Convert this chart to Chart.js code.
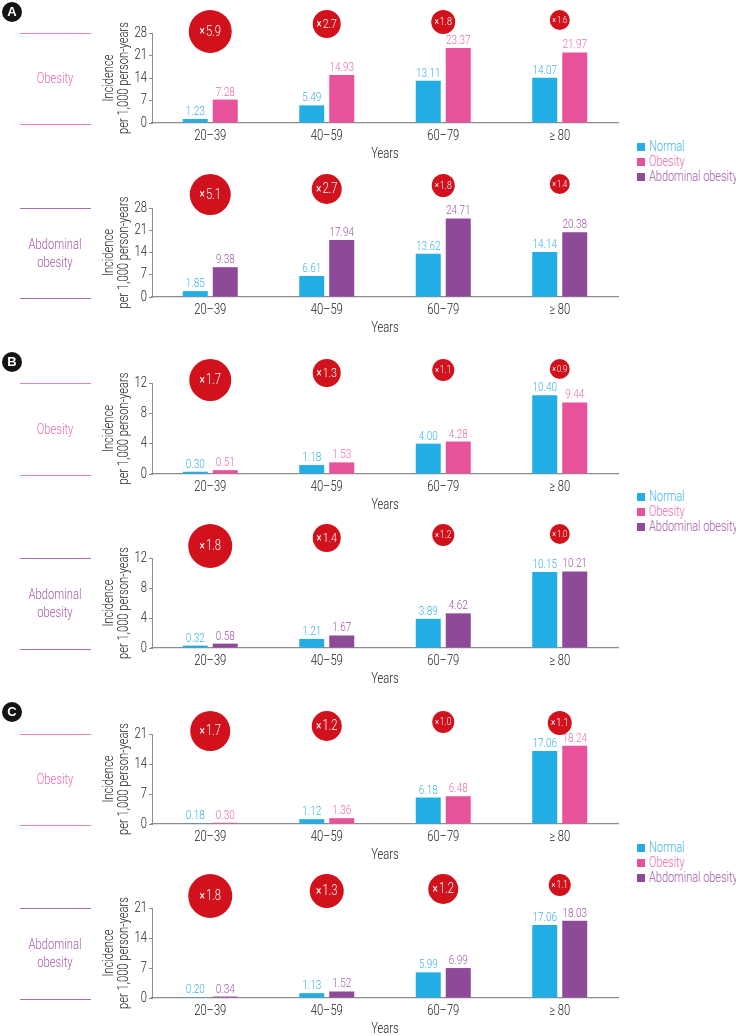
<!DOCTYPE html>
<html><head><meta charset="utf-8">
<script src="https://cdn.jsdelivr.net/npm/chart.js@4.4.1/dist/chart.umd.min.js"></script>
<style>
html,body{margin:0;padding:0;background:#fff;}
body{width:736px;height:1036px;position:relative;overflow:hidden;font-family:Roboto,sans-serif;font-weight:300;}
.cv{position:absolute;left:95px;width:540px;}
.line{position:absolute;left:20px;width:71px;height:1px;}
.lab{position:absolute;left:0;width:110px;text-align:center;font-size:14px;line-height:18px;transform:scaleX(0.8);transform-origin:55px 0;}
.badge{position:absolute;width:20px;height:20px;border-radius:50%;background:#151515;color:#fff;font:bold 13px 'Liberation Sans',Arial,sans-serif;text-align:center;line-height:20px;}
.leg{position:absolute;left:637px;font-size:14px;line-height:15px;}
.leg div{position:relative;padding-left:12px;height:15px;white-space:nowrap;}
.leg i{position:absolute;left:0;top:4px;width:8px;height:8px;}
.leg span{display:inline-block;transform:scaleX(0.78);transform-origin:0 0;}
</style></head>
<body>
<script>
// ---------------- DATA ----------------
const categories = ['20–39', '40–59', '60–79', '≥ 80'];
const seriesNames = ['Normal', 'Obesity', 'Abdominal obesity'];

// Panel A
const ticksA = [0, 7, 14, 21, 28];
const normalA1 = [1.23, 5.49, 13.11, 14.07];
const obesityA = [7.28, 14.93, 23.37, 21.97];
const ratioA1 = [5.9, 2.7, 1.8, 1.6];
const normalA2 = [1.85, 6.61, 13.62, 14.14];
const abdominalA = [9.38, 17.94, 24.71, 20.38];
const ratioA2 = [5.1, 2.7, 1.8, 1.4];

// Panel B
const ticksB = [0, 4, 8, 12];
const normalB1 = [0.30, 1.18, 4.00, 10.40];
const obesityB = [0.51, 1.53, 4.28, 9.44];
const ratioB1 = [1.7, 1.3, 1.1, 0.9];
const normalB2 = [0.32, 1.21, 3.89, 10.15];
const abdominalB = [0.58, 1.67, 4.62, 10.21];
const ratioB2 = [1.8, 1.4, 1.2, 1.0];

// Panel C
const ticksC = [0, 7, 14, 21];
const normalC1 = [0.18, 1.12, 6.18, 17.06];
const obesityC = [0.30, 1.36, 6.48, 18.24];
const ratioC1 = [1.7, 1.2, 1.0, 1.1];
const normalC2 = [0.20, 1.13, 5.99, 17.06];
const abdominalC = [0.34, 1.52, 6.99, 18.03];
const ratioC2 = [1.8, 1.3, 1.2, 1.1];

// ---------------- STYLE / LAYOUT ----------------
const FONT = "Roboto, sans-serif";
const SX = 0.8; // horizontal condensing of canvas text (reference uses a condensed face)
(function condenseCanvasText() {
  const proto = CanvasRenderingContext2D.prototype;
  const origFill = proto.fillText, origMeasure = proto.measureText;
  proto.fillText = function (t, x, y, mw) {
    this.save();
    this.translate(x, y);
    this.scale(SX, 1);
    if (mw === undefined) origFill.call(this, t, 0, 0);
    else origFill.call(this, t, 0, 0, mw / SX);
    this.restore();
  };
  proto.measureText = function (t) {
    const m = origMeasure.call(this, t);
    return {
      width: m.width * SX,
      actualBoundingBoxLeft: m.actualBoundingBoxLeft * SX,
      actualBoundingBoxRight: m.actualBoundingBoxRight * SX,
      actualBoundingBoxAscent: m.actualBoundingBoxAscent,
      actualBoundingBoxDescent: m.actualBoundingBoxDescent,
      fontBoundingBoxAscent: m.fontBoundingBoxAscent,
      fontBoundingBoxDescent: m.fontBoundingBoxDescent
    };
  };
})();

const COL = {
  normal: '#22ADE4', obesity: '#E8529B', abdominal: '#8E4999',
  normalTxt: '#3DB4E8', obesityTxt: '#EE6BAC', abdominalTxt: '#A45AA8',
  obesityLine: '#F080B8', abdominalLine: '#A86AAE',
  red: '#D1111C', axis: '#8C8C8C', text: '#222'
};
const panels = [
  {normal: normalA1, other: obesityA, kind: 'obesity', ratios: ratioA1, ticks: ticksA, top: 33, bottom: 123, gap: 23, radii: [21.5, 14, 12, 10]},
  {normal: normalA2, other: abdominalA, kind: 'abdominal', ratios: ratioA2, ticks: ticksA, top: 208, bottom: 297, gap: 34, radii: [20.5, 15, 11.5, 10]},
  {normal: normalB1, other: obesityB, kind: 'obesity', ratios: ratioB1, ticks: ticksB, top: 383, bottom: 474, gap: 24, radii: [21, 14, 11, 10]},
  {normal: normalB2, other: abdominalB, kind: 'abdominal', ratios: ratioB2, ticks: ticksB, top: 558, bottom: 648, gap: 34, radii: [22, 14, 11, 10]},
  {normal: normalC1, other: obesityC, kind: 'obesity', ratios: ratioC1, ticks: ticksC, top: 734, bottom: 824, gap: 23, radii: [20, 15, 11, 12]},
  {normal: normalC2, other: abdominalC, kind: 'abdominal', ratios: ratioC2, ticks: ticksC, top: 908, bottom: 998, gap: 34, radii: [22, 17, 15, 11]}
];
const PAD_TOP = 36, XAXIS_H = 42, YAXIS_W = 57;

Chart.defaults.font.family = FONT;
Chart.defaults.font.weight = '300';
Chart.defaults.color = COL.text;

const annotPlugin = {
  id: 'annot',
  afterDatasetsDraw(chart, args, opts) {
    const ctx = chart.ctx;
    chart.data.datasets.forEach((ds, di) => {
      const meta = chart.getDatasetMeta(di);
      meta.data.forEach((bar, i) => {
        ctx.save();
        ctx.fillStyle = opts.labelColors[di];
        ctx.font = '300 12.5px ' + FONT;
        ctx.textAlign = 'center';
        ctx.textBaseline = 'alphabetic';
        ctx.fillText(ds.data[i].toFixed(2), bar.x, bar.y - 4);
        ctx.restore();
      });
    });
    const xs = chart.scales.x;
    opts.ratios.forEach((r, i) => {
      const cx = xs.getPixelForValue(i);
      const rad = opts.radii[i];
      const cy = chart.chartArea.top - opts.gap + rad;
      ctx.save();
      ctx.beginPath();
      ctx.arc(cx, cy, rad, 0, Math.PI * 2);
      ctx.fillStyle = COL.red;
      ctx.fill();
      const fs = Math.min(14, rad * 0.95);
      const fx = fs * 0.9;
      ctx.fillStyle = '#fff';
      ctx.textBaseline = 'middle';
      const num = r.toFixed(1);
      ctx.font = '400 ' + fx + 'px ' + FONT;
      const wx = ctx.measureText('×').width;
      ctx.font = '300 ' + fs + 'px ' + FONT;
      const wn = ctx.measureText(num).width;
      const total = wx + 1 + wn;
      const x0 = cx - total / 2;
      ctx.textAlign = 'left';
      ctx.font = '400 ' + fx + 'px ' + FONT;
      ctx.fillText('×', x0, cy + 0.5);
      ctx.font = '300 ' + fs + 'px ' + FONT;
      ctx.fillText(num, x0 + wx + 1, cy + 0.5);
      ctx.restore();
    });
  }
};

function addEl(cls, style, html) {
  const d = document.createElement('div');
  d.className = cls;
  Object.assign(d.style, style);
  if (html !== undefined) d.innerHTML = html;
  document.body.appendChild(d);
  return d;
}

panels.forEach((p) => {
  const canvasTop = p.top - PAD_TOP;
  const areaH = p.bottom - p.top;
  const H = PAD_TOP + areaH + XAXIS_H;
  const wrap = addEl('cv', {top: canvasTop + 'px', height: H + 'px'});
  const cv = document.createElement('canvas');
  wrap.appendChild(cv);

  const otherColor = p.kind === 'obesity' ? COL.obesity : COL.abdominal;
  const otherTxt = p.kind === 'obesity' ? COL.obesityTxt : COL.abdominalTxt;
  const otherName = p.kind === 'obesity' ? seriesNames[1] : seriesNames[2];
  const tickVals = p.ticks;

  new Chart(cv, {
    type: 'bar',
    data: {
      labels: categories,
      datasets: [
        {label: seriesNames[0], data: p.normal, backgroundColor: COL.normal},
        {label: otherName, data: p.other, backgroundColor: otherColor}
      ]
    },
    options: {
      responsive: true, maintainAspectRatio: false, animation: false,
      devicePixelRatio: 1,
      categoryPercentage: 0.515, barPercentage: 0.833,
      layout: {padding: {top: PAD_TOP, right: 17, left: 0, bottom: 0}},
      plugins: {
        legend: {display: false}, tooltip: {enabled: false},
        annot: {labelColors: [COL.normalTxt, otherTxt], ratios: p.ratios, radii: p.radii, gap: p.gap}
      },
      scales: {
        x: {
          grid: {display: false, drawTicks: false},
          border: {display: true, color: COL.axis, width: 1.2},
          ticks: {padding: 5, font: {size: 14}, color: COL.text},
          title: {display: true, text: 'Years', font: {size: 14}, color: COL.text, padding: {top: 0, bottom: 2}},
          afterFit: (s) => { s.height = XAXIS_H; }
        },
        y: {
          min: tickVals[0], max: tickVals[tickVals.length - 1],
          afterBuildTicks: (s) => { s.ticks = tickVals.map(v => ({value: v})); },
          grid: {display: true, drawOnChartArea: false, tickLength: 3, color: COL.axis},
          border: {display: true, color: COL.axis, width: 1},
          ticks: {padding: 2, font: {size: 14}, color: COL.text},
          title: {display: true, text: ['Incidence', 'per 1,000 person-years'], font: {size: 14, lineHeight: 1.07}, color: COL.text, padding: {top: 7.5, bottom: 0}},
          afterFit: (s) => { s.width = YAXIS_W; }
        }
      }
    },
    plugins: [annotPlugin]
  });

  // left label block
  const lineCol = p.kind === 'obesity' ? COL.obesityLine : COL.abdominalLine;
  addEl('line', {top: p.top + 'px', background: lineCol});
  addEl('line', {top: (p.bottom + 1) + 'px', background: lineCol});
  const txt = p.kind === 'obesity' ? 'Obesity' : 'Abdominal<br>obesity';
  const nLines = p.kind === 'obesity' ? 1 : 2;
  const mid = (p.top + p.bottom) / 2;
  addEl('lab', {top: (mid - nLines * 9) + 'px', color: otherTxt}, txt);
});

// panel badges
[['A', 2], ['B', 352], ['C', 702]].forEach(([t, y]) => addEl('badge', {left: '2px', top: y + 'px'}, t));

// legends
[139, 489, 840].forEach((y) => {
  const lg = addEl('leg', {top: y + 'px'});
  lg.innerHTML =
    `<div style="color:${COL.normalTxt}"><i style="background:${COL.normal}"></i><span>${seriesNames[0]}</span></div>` +
    `<div style="color:${COL.obesityTxt}"><i style="background:${COL.obesity}"></i><span>${seriesNames[1]}</span></div>` +
    `<div style="color:${COL.abdominalTxt}"><i style="background:${COL.abdominal}"></i><span>${seriesNames[2]}</span></div>`;
});
</script>
</body></html>
